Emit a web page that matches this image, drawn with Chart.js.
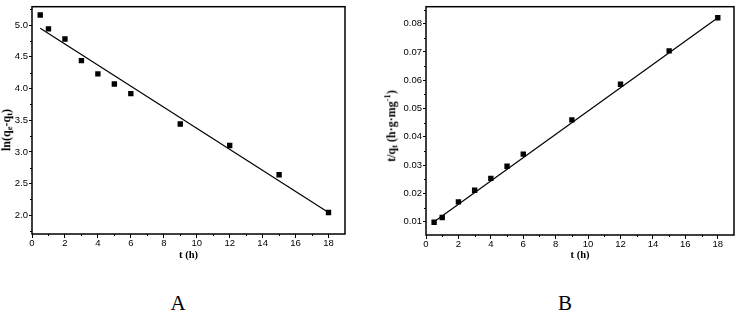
<!DOCTYPE html>
<html><head><meta charset="utf-8">
<script src="https://cdn.jsdelivr.net/npm/chart.js@4/dist/chart.umd.min.js"></script>
<style>
html,body{margin:0;padding:0;background:#fff;width:738px;height:313px;overflow:hidden;position:relative}
canvas{position:absolute;top:0}
.yt{position:absolute;white-space:nowrap;font-family:"Liberation Serif","Times New Roman",serif;font-weight:bold;font-size:12px;color:#000;transform:translate(-50%,-50%) rotate(-90deg);line-height:1}
.yt sub{font-size:8.5px;vertical-align:-2px}
.yt sup{font-size:8.5px;vertical-align:5px}
.lab{position:absolute;font-family:"Liberation Serif","Times New Roman",serif;font-size:21px;color:#000;transform:translateX(-50%);line-height:1}
</style></head>
<body>
<canvas id="cA" width="350" height="262" style="left:0"></canvas>
<canvas id="cB" width="358" height="262" style="left:380px"></canvas>
<div class="yt" style="left:7px;top:130px">ln(q<sub>e</sub>-q<sub>t</sub>)</div>
<div class="yt" style="left:391px;top:126px">t/q<sub>t</sub> (h·g·mg<sup>-1</sup>)</div>
<div class="lab" style="left:178px;top:293px">A</div>
<div class="lab" style="left:565px;top:293px">B</div>
<script>
// ---- data ----
const timeA = [0.5, 1, 2, 3, 4, 5, 6, 9, 12, 15, 18];
const lnQeQt = [5.16, 4.94, 4.78, 4.44, 4.23, 4.07, 3.92, 3.44, 3.10, 2.64, 2.045];
const fitTimeA = [0.5, 18];
const fitLnQeQt = [4.95, 2.045];

const timeB = [0.5, 1, 2, 3, 4, 5, 6, 9, 12, 15, 18];
const tOverQt = [0.0098, 0.0115, 0.0170, 0.0211, 0.0253, 0.0296, 0.0339, 0.0460, 0.0586, 0.0704, 0.0821];
const fitTimeB = [0.5, 18];
const fitTOverQt = [0.0100, 0.0821];

const xTicks = [0, 2, 4, 6, 8, 10, 12, 14, 16, 18];
const yTicksA = [2.0, 2.5, 3.0, 3.5, 4.0, 4.5, 5.0];
const yTicksB = [0.01, 0.02, 0.03, 0.04, 0.05, 0.06, 0.07, 0.08];
const xMinor = [1, 3, 5, 7, 9, 11, 13, 15, 17];
const yMinorA = [1.75, 2.25, 2.75, 3.25, 3.75, 4.25, 4.75, 5.25];
const yMinorB = [0.005, 0.015, 0.025, 0.035, 0.045, 0.055, 0.065, 0.075, 0.085];

const tickFont = {family: '"Liberation Sans", Arial, sans-serif', size: 9.5};
const titleFont = {family: '"Liberation Serif", "Times New Roman", serif', size: 10.5, weight: 'bold'};

const framePlugin = {
  id: 'frame',
  afterDraw(chart, args, opts) {
    const {ctx, chartArea: a, scales} = chart;
    ctx.save();
    ctx.strokeStyle = '#000';
    ctx.lineWidth = 1.5;
    ctx.strokeRect(a.left, a.top, a.right - a.left, a.bottom - a.top);
    ctx.lineWidth = 1;
    ctx.beginPath();
    opts.xMinor.forEach(v => {
      const p = Math.round(scales.x.getPixelForValue(v)) + 0.5;
      ctx.moveTo(p, a.bottom); ctx.lineTo(p, a.bottom + 2);
    });
    opts.yMinor.forEach(v => {
      const p = Math.round(scales.y.getPixelForValue(v)) + 0.5;
      if (p > a.top && p < a.bottom) { ctx.moveTo(a.left, p); ctx.lineTo(a.left - 2, p); }
    });
    ctx.stroke();
    ctx.restore();
  }
};

function makeChart(id, xs, ys, fx, fy, yMin, yMax, yTicks, yMinor, yWidth, xHeight, pad, fmt) {
  const pts = xs.map((x, i) => ({x, y: ys[i]}));
  const fit = fx.map((x, i) => ({x, y: fy[i]}));
  return new Chart(document.getElementById(id), {
    type: 'scatter',
    data: {datasets: [
      {data: fit, showLine: true, borderColor: '#000', borderWidth: 1.2, pointRadius: 0, fill: false},
      {data: pts, pointStyle: 'rect', pointRadius: 3.8, backgroundColor: '#000', borderWidth: 0}
    ]},
    options: {
      responsive: false, animation: false, devicePixelRatio: 1,
      layout: {padding: pad},
      plugins: {legend: {display: false}, tooltip: {enabled: false}, frame: {xMinor: xMinor, yMinor: yMinor}},
      scales: {
        x: {
          type: 'linear', min: 0, max: 19,
          afterBuildTicks: s => { s.ticks = xTicks.map(v => ({value: v})); },
          afterFit: s => { s.height = xHeight; },
          ticks: {font: tickFont, color: '#000', padding: 0, maxRotation: 0, autoSkip: false, callback: v => String(v)},
          grid: {drawOnChartArea: false, drawTicks: true, tickLength: 4, color: '#000', lineWidth: 1},
          border: {display: false},
          title: {display: true, text: 't (h)', font: titleFont, color: '#000', padding: {top: 0, bottom: 0}}
        },
        y: {
          type: 'linear', min: yMin, max: yMax,
          afterBuildTicks: s => { s.ticks = yTicks.map(v => ({value: v})); },
          afterFit: s => { s.width = yWidth; },
          ticks: {font: tickFont, color: '#000', padding: 1, autoSkip: false, callback: fmt},
          grid: {drawOnChartArea: false, drawTicks: true, tickLength: 3, color: '#000', lineWidth: 1},
          border: {display: false}
        }
      }
    },
    plugins: [framePlugin]
  });
}

makeChart('cA', timeA, lnQeQt, fitTimeA, fitLnQeQt, 1.705, 5.29, yTicksA, yMinorA, 32, 28,
  {top: 3, right: 5, left: 0, bottom: 0}, v => Number(v).toFixed(1));
makeChart('cB', timeB, tOverQt, fitTimeB, fitTOverQt, 0.0053, 0.086, yTicksB, yMinorB, 46, 27,
  {top: 2, right: 2, left: 0, bottom: 0}, v => Number(v).toFixed(2));
</script>
</body></html>
